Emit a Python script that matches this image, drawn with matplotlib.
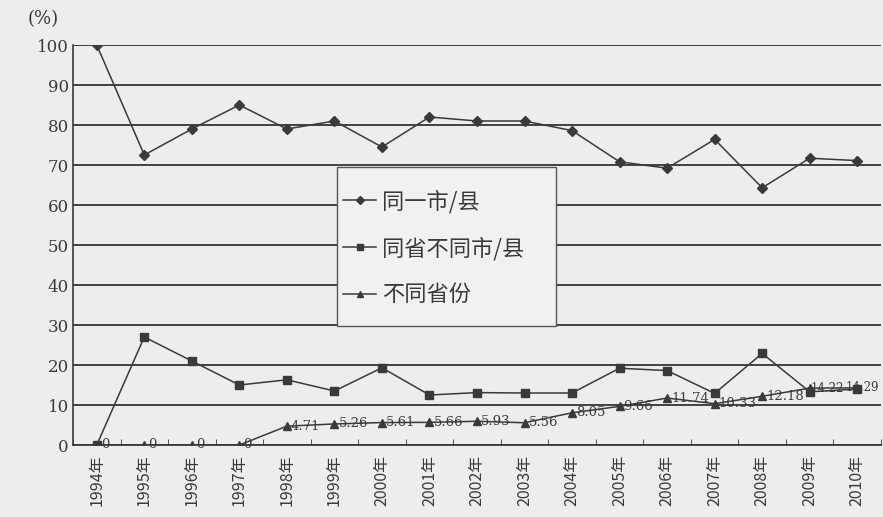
import matplotlib
matplotlib.use("Agg")
import matplotlib.pyplot as plt
from matplotlib.patches import Rectangle
import numpy as np

plt.rcParams['font.family'] = ['Noto Sans CJK SC', 'DejaVu Sans']

years = ["1994年", "1995年", "1996年", "1997年", "1998年", "1999年", "2000年", "2001年",
         "2002年", "2003年", "2004年", "2005年", "2006年", "2007年", "2008年", "2009年", "2010年"]
same_city = [100, 72.5, 79, 85, 79, 81, 74.5, 82, 81, 81, 78.6, 70.8, 69.2, 76.4, 64.3, 71.7, 71.1]
same_prov = [0, 27, 21, 15, 16.3, 13.5, 19.3, 12.5, 13.1, 13.0, 13.0, 19.2, 18.6, 12.9, 22.9, 13.3, 14.0]
diff_prov = [0, 0, 0, 0, 4.71, 5.26, 5.61, 5.66, 5.93, 5.56, 8.05, 9.66, 11.74, 10.33, 12.18, 14.22, 14.29]
labels_diff = ["0", "0", "0", "0", "4.71", "5.26", "5.61", "5.66", "5.93", "5.56", "8.05",
               "9.66", "11.74", "10.33", "12.18", "14.22", "14.29"]
series_names = ["同一市/县", "同省不同市/县", "不同省份"]
yticks = [0, 10, 20, 30, 40, 50, 60, 70, 80, 90, 100]

bg = '#ededeb'
ink = '#3a3a3a'
serif = ['DejaVu Serif']

fig = plt.figure(figsize=(8.83, 5.17), dpi=100, facecolor=bg)
ax = fig.add_axes([73/883, 1-445/517, 808/883, 400/517])
ax.set_facecolor(bg)

x = np.arange(len(years))
ax.plot(x, same_city, color=ink, lw=1.1, marker='D', ms=4.8, label=series_names[0])
ax.plot(x, same_prov, color=ink, lw=1.1, marker='s', ms=6, label=series_names[1])
ax.plot(x, diff_prov, color=ink, lw=1.1, marker='^', ms=5.5, label=series_names[2])

n = len(diff_prov)
for i, (xi, yi, t) in enumerate(zip(x, diff_prov, labels_diff)):
    if i == n - 1:
        off = (-12, 0)
    elif i == n - 2:
        off = (1, 0)
    else:
        off = (4, 0)
    ax.annotate(t, (xi, yi), xytext=off, textcoords='offset pixels',
                ha='left', va='center', fontsize=8.5 if i >= n - 2 else 9.5, color=ink,
                family=serif, annotation_clip=False, zorder=5)

ax.set_xlim(-0.5, len(years) - 0.5)
ax.set_ylim(0, 100)
ax.set_yticks(yticks)
ax.set_yticklabels([str(v) for v in yticks], family=serif, fontsize=12, color=ink)
ax.yaxis.grid(True, color='#333333', lw=1.3)
ax.set_axisbelow(True)
ax.tick_params(axis='y', length=0, pad=3)

ax.set_xticks(x)
ax.set_xticklabels(years, rotation=90, fontsize=11.5, color=ink)
ax.set_xticks(np.arange(len(years) + 1) - 0.5, minor=True)
ax.tick_params(axis='x', which='major', length=0, pad=7)
ax.tick_params(axis='x', which='minor', length=4, direction='in', color=ink)

for s in ['top', 'right']:
    ax.spines[s].set_visible(False)
ax.spines['left'].set_color(ink)
ax.spines['bottom'].set_color(ink)
ax.spines['left'].set_linewidth(1.2)
ax.spines['bottom'].set_linewidth(1.3)

fig.text(28/883, 1-19/517, "(%)", fontsize=13, color=ink, va='center', ha='left',
         family=serif)

# legend frame
rect = Rectangle((264/808, 119/400), 219/808, 159/400, transform=ax.transAxes,
                 facecolor='#f1f1ef', edgecolor='#555555', lw=1.0, zorder=3)
ax.add_patch(rect)
leg = ax.legend(loc='center left', bbox_to_anchor=(270/808, 197/400), fontsize=16,
                frameon=False, handlelength=1.5, labelspacing=1.05, borderpad=0,
                borderaxespad=0, handletextpad=0.25, markerscale=0.8)
leg.set_zorder(4)
for t in leg.get_texts():
    t.set_color(ink)

fig.savefig("out.png", dpi=100, facecolor=bg)
